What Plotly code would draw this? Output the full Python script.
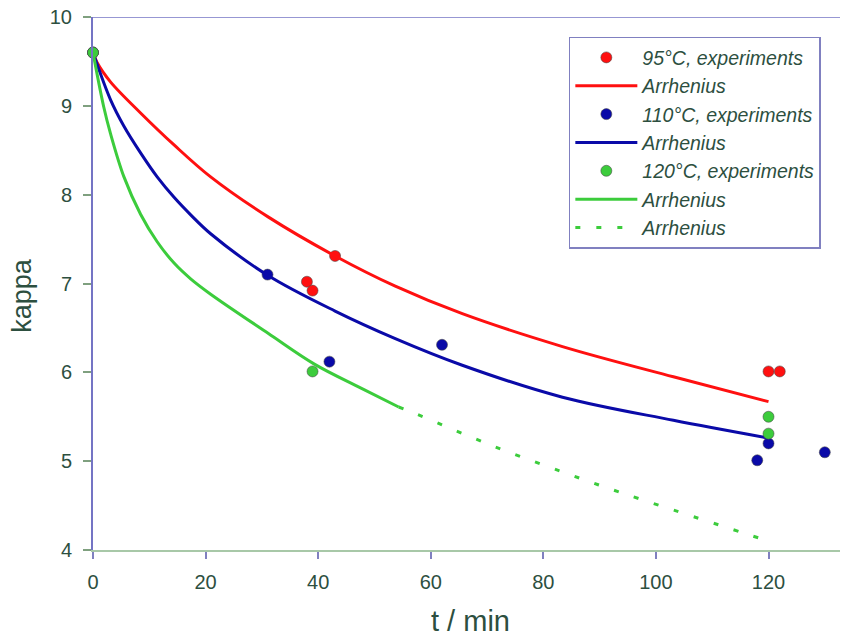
import plotly.graph_objects as go

# Kappa number measurements at three cooking temperatures
t_95 = [0, 38, 39, 43, 120, 122]
k_95 = [9.6, 7.02, 6.92, 7.31, 6.01, 6.01]
t_110 = [0, 31, 42, 62, 118, 120, 130]
k_110 = [9.6, 7.10, 6.12, 6.31, 5.01, 5.20, 5.10]
t_120 = [0, 39, 120, 120]
k_120 = [9.6, 6.01, 5.50, 5.31]

# Arrhenius model curves
fit_t_95 = [0, 0.7, 3.1, 8.45, 14.4, 20.9, 31.1, 43.0, 53.7, 65.6, 83.4, 103.1, 120]
fit_k_95 = [9.6, 9.49, 9.27, 8.92, 8.56, 8.20, 7.75, 7.31, 6.97, 6.66, 6.29, 5.95, 5.67]
fit_t_110 = [0, 3.1, 5.5, 8.45, 11.4, 14.4, 17.4, 20.9, 31.1, 43.0, 53.7, 65.6, 83.4, 103.1, 120]
fit_k_110 = [9.6, 9.07, 8.77, 8.47, 8.20, 7.97, 7.77, 7.56, 7.09, 6.69, 6.38, 6.08, 5.72, 5.46, 5.26]
fit_t_120 = [0, 1.9, 3.1, 5.5, 8.45, 11.4, 14.4, 17.4, 20.9, 31.1, 39.4, 47.7, 54.3]
fit_k_120 = [9.6, 8.99, 8.69, 8.20, 7.78, 7.47, 7.23, 7.05, 6.88, 6.44, 6.09, 5.82, 5.61]
ext_t_120 = [54.3, 56.7, 71.5, 86.4, 93.6, 119.5]
ext_k_120 = [5.61, 5.55, 5.16, 4.81, 4.65, 4.11]

RED = "#ff1010"
BLUE = "#0a0aa8"
GREEN = "#3ccc3c"
TEXT = "#2d4f3f"
PURPLE = "#7474c4"
marker_line = dict(width=1, color="rgba(70,70,70,0.55)")

fig = go.Figure()
fig.add_trace(go.Scatter(x=t_95, y=k_95, mode="markers", name="95°C, experiments",
                         marker=dict(color=RED, size=11, line=marker_line)))
fig.add_trace(go.Scatter(x=fit_t_95, y=fit_k_95, mode="lines", name="Arrhenius",
                         line=dict(color=RED, width=3, shape="spline", smoothing=1.0)))
fig.add_trace(go.Scatter(x=t_110, y=k_110, mode="markers", name="110°C, experiments",
                         marker=dict(color=BLUE, size=11, line=marker_line)))
fig.add_trace(go.Scatter(x=fit_t_110, y=fit_k_110, mode="lines", name="Arrhenius",
                         line=dict(color=BLUE, width=3, shape="spline", smoothing=1.0)))
fig.add_trace(go.Scatter(x=t_120, y=k_120, mode="markers", name="120°C, experiments",
                         marker=dict(color=GREEN, size=11, line=marker_line)))
fig.add_trace(go.Scatter(x=fit_t_120, y=fit_k_120, mode="lines", name="Arrhenius",
                         line=dict(color=GREEN, width=3, shape="spline", smoothing=1.0)))
fig.add_trace(go.Scatter(x=ext_t_120, y=ext_k_120, mode="lines", name="Arrhenius",
                         line=dict(color=GREEN, width=3, dash="5px,16px", shape="spline")))

fig.update_traces(cliponaxis=False)

# top border line of the plotting frame
fig.add_shape(type="line", xref="paper", yref="y", x0=0, x1=1, y0=10, y1=10,
              line=dict(color=PURPLE, width=1.5), layer="below")

# axis titles
fig.add_annotation(text="kappa", xref="paper", yref="paper", x=-0.095, y=0.477,
                   textangle=-90, showarrow=False, xanchor="center", yanchor="middle",
                   font=dict(size=27, color=TEXT))
fig.add_annotation(text="t / min", xref="paper", yref="paper", x=0.506, y=-0.133,
                   showarrow=False, xanchor="center", yanchor="middle",
                   font=dict(size=29, color=TEXT))

fig.update_layout(
    width=844, height=639,
    margin=dict(l=93, r=4, t=17, b=89),
    paper_bgcolor="white", plot_bgcolor="white",
    font=dict(family="Liberation Sans, Arial, sans-serif", color=TEXT, size=20),
    showlegend=True,
    legend=dict(
        x=0.637, y=0.963, xanchor="left", yanchor="top",
        bgcolor="white", bordercolor="#8080c0", borderwidth=1.5,
        font=dict(size=19.5, style="italic", color=TEXT),
        itemwidth=62, tracegroupgap=0,
    ),
    xaxis=dict(
        range=[0, 132.7], tickmode="array", tickvals=[0, 20, 40, 60, 80, 100, 120],
        showgrid=False, zeroline=False,
        showline=True, linecolor="#a8c8a8", linewidth=2,
        ticks="outside", ticklen=7, tickcolor="#8080c0", tickwidth=1.5,
        ticklabelstandoff=6,
    ),
    yaxis=dict(
        range=[4, 10], tickmode="array", tickvals=[4, 5, 6, 7, 8, 9, 10],
        showgrid=False, zeroline=False,
        showline=True, linecolor=PURPLE, linewidth=2,
        ticks="outside", ticklen=8, tickcolor="#7fa07f", tickwidth=1.5,
        ticklabelstandoff=7,
    ),
)

fig.write_html("out.html")
